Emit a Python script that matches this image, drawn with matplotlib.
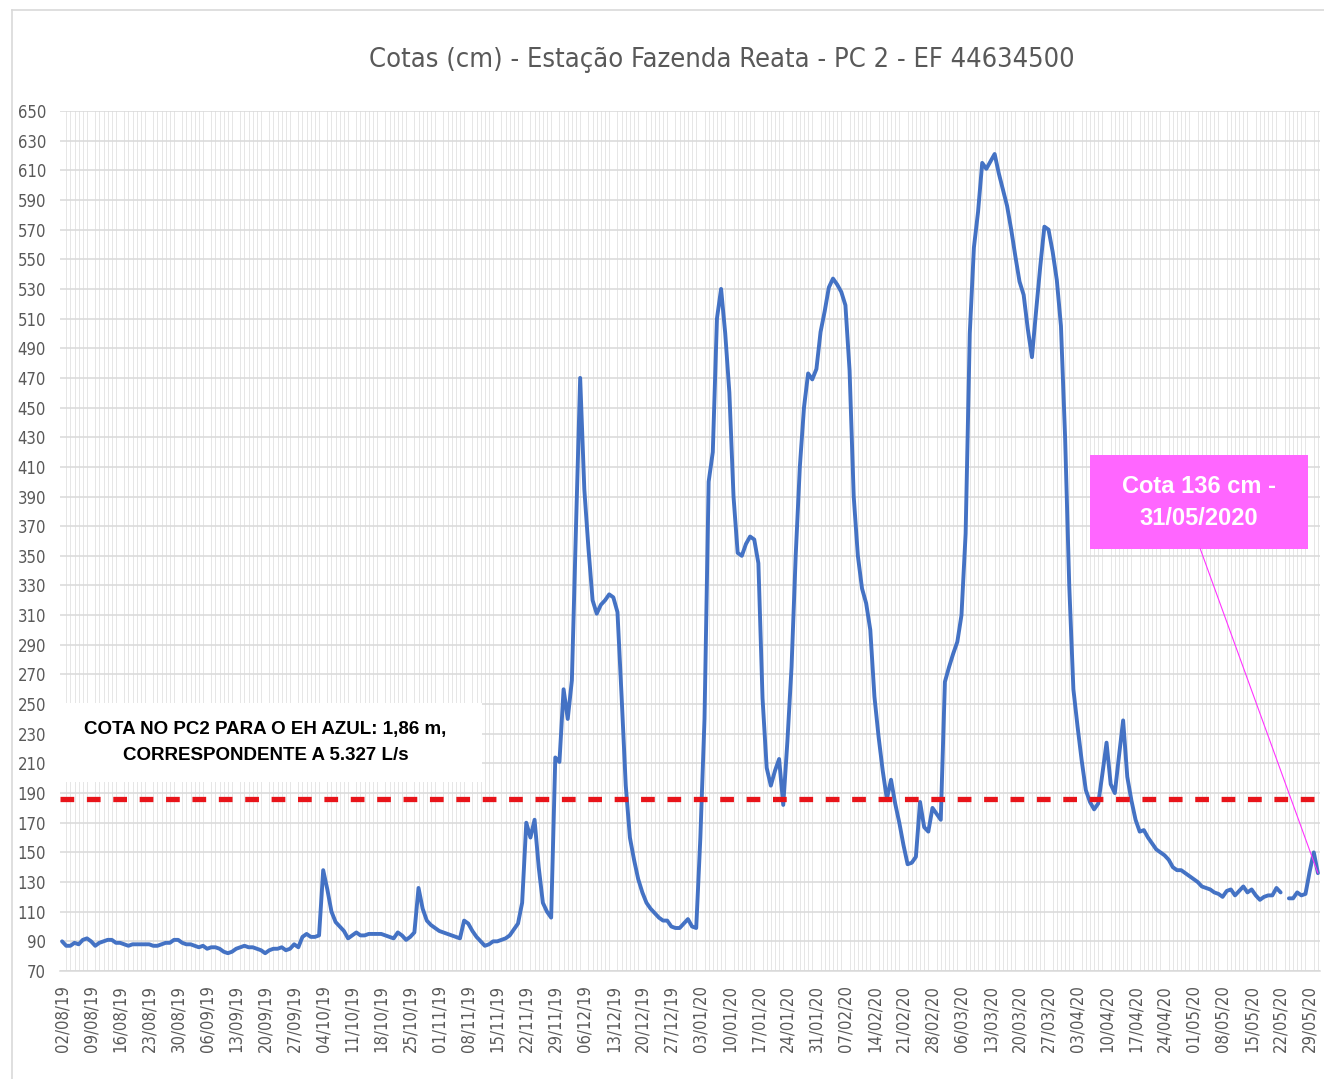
import numpy as np
import pandas as pd
import matplotlib
matplotlib.use("Agg")
import matplotlib.pyplot as plt
from matplotlib.patches import Rectangle
from matplotlib.lines import Line2D

# daily dates (02/08/2019 .. 31/05/2020)
dates = pd.date_range("2019-08-02", "2020-05-31", freq="D")

# cota (cm), one row per week, starting on the tick dates
cota_cm = [
    90, 87, 87, 89, 88, 91, 92,
    90, 87, 89, 90, 91, 91, 89,
    89, 88, 87, 88, 88, 88, 88,
    88, 87, 87, 88, 89, 89, 91,
    91, 89, 88, 88, 87, 86, 87,
    85, 86, 86, 85, 83, 82, 83,
    85, 86, 87, 86, 86, 85, 84,
    82, 84, 85, 85, 86, 84, 85,
    88, 86, 93, 95, 93, 93, 94,
    138, 125, 110, 103, 100, 97, 92,
    94, 96, 94, 94, 95, 95, 95,
    95, 94, 93, 92, 96, 94, 91,
    93, 96, 126, 112, 104, 101, 99,
    97, 96, 95, 94, 93, 92, 104,
    102, 97, 93, 90, 87, 88, 90,
    90, 91, 92, 94, 98, 102, 116,
    170, 160, 172, 140, 116, 110, 106,
    214, 211, 260, 240, 266, 370, 470,
    395, 355, 320, 311, 317, 320, 324,
    322, 312, 255, 195, 160, 145, 132,
    123, 116, 112, 109, 106, 104, 104,
    100, 99, 99, 102, 105, 100, 99,
    160, 240, 400, 420, 510, 530, 500,
    460, 390, 352, 350, 358, 363, 361,
    345, 254, 207, 195, 205, 213, 182,
    225, 275, 350, 410, 450, 473, 469,
    476, 501, 515, 531, 537, 533, 528,
    519, 475, 390, 350, 328, 318, 300,
    255, 228, 205, 186, 199, 183, 170,
    155, 142, 143, 147, 184, 167, 164,
    180, 176, 172, 265, 275, 284, 292,
    310, 365, 500, 558, 582, 615, 611,
    616, 621, 608, 597, 586, 570, 552,
    535, 526, 503, 484, 515, 545, 572,
    570, 555, 536, 505, 430, 330, 260,
    235, 212, 192, 184, 179, 183, 203,
    224, 196, 190, 215, 239, 201, 185,
    172, 164, 165, 160, 156, 152, 150,
    148, 145, 140, 138, 138, 136, 134,
    132, 130, 127, 126, 125, 123, 122,
    120, 124, 125, 121, 124, 127, 123,
    125, 121, 118, 120, 121, 121, 126,
    123, np.nan, 119, 119, 123, 121, 122,
    137, 150, 136,
]

cota_azul = 186          # cota no PC2 para o EH azul (cm)
y_ticks = list(range(70, 651, 20))
tick_step = 7            # one date label per week

titulo = "Cotas (cm) - Estação Fazenda Reata - PC 2 - EF 44634500"
nota_azul = "COTA NO PC2 PARA O EH AZUL: 1,86 m,\nCORRESPONDENTE A 5.327 L/s"
nota_final = "Cota 136 cm -\n31/05/2020"

narrow = ["DejaVu Sans"]
grey = "#595959"

x = np.arange(len(dates))
y = np.array(cota_cm, dtype=float)

fig = plt.figure(figsize=(13.24, 10.79), dpi=100)
ax = fig.add_axes([60 / 1324, 1 - 971 / 1079, 1260 / 1324, 860 / 1079])

# background grid: daily vertical lines + horizontal every 20 cm
ax.set_xticks(x, minor=True)
ax.grid(which="minor", axis="x", color="#e6e6e6", lw=0.7)
ax.grid(which="major", axis="y", color="#d9d9d9", lw=1.1)
ax.set_axisbelow(True)

ax.plot(x, y, color="#4472C4", lw=2.8, solid_joinstyle="round",
        solid_capstyle="round", zorder=3)
ax.axhline(cota_azul, color="#E8141A", lw=3.8, dashes=(2.6, 2.4), zorder=4)

ax.set_xlim(-0.5, len(dates) - 0.5)
ax.set_ylim(y_ticks[0], y_ticks[-1])
ax.set_yticks(y_ticks)
ax.set_yticklabels([str(v) for v in y_ticks], family=narrow, fontstretch="condensed",
                   fontsize=12, color=grey)
major = x[::tick_step]
ax.set_xticks(major)
ax.set_xticklabels([d.strftime("%d/%m/%y") for d in dates[::tick_step]],
                   rotation=90, family=narrow, fontstretch="condensed",
                   fontsize=12, color=grey)
ax.tick_params(axis="both", which="both", length=0)
ax.tick_params(axis="y", pad=10)
ax.tick_params(axis="x", pad=10)
for s in ["top", "right", "left"]:
    ax.spines[s].set_visible(False)
ax.spines["bottom"].set_color("#d9d9d9")
ax.spines["bottom"].set_linewidth(1.1)

fig.text(0.545, 1 - 60 / 1079, titulo, ha="center", va="center",
         family=narrow, fontstretch="condensed", fontsize=19.5, color=grey)

# white note box with the blue-level reference
ax.add_patch(Rectangle((0.0, 0.2198), 0.335, 0.0918, transform=ax.transAxes,
                       facecolor="white", edgecolor="none", zorder=5))
ax.text(0.163, 0.2657, nota_azul, transform=ax.transAxes, ha="center", va="center",
        family=["Liberation Sans", "DejaVu Sans"], fontweight="bold", fontsize=13.5,
        color="black", linespacing=1.75, zorder=6)

# pink callout for the last reading
ax.add_patch(Rectangle((0.8175, 0.4907), 0.173, 0.1093, transform=ax.transAxes,
                       facecolor="#FF66FF", edgecolor="none", zorder=5))
ax.text(0.904, 0.5453, nota_final, transform=ax.transAxes, ha="center", va="center",
        family=["Liberation Sans", "DejaVu Sans"], fontweight="bold", fontsize=17,
        color="white", linespacing=1.5, zorder=6)
ax.annotate("", xy=(x[-1], y[-1]), xycoords="data",
            xytext=(0.905, 0.4907), textcoords="axes fraction",
            arrowprops=dict(arrowstyle="-", color="#FF33FF", lw=0.8,
                            shrinkA=0, shrinkB=0), zorder=6)

# outer chart frame
fig.add_artist(Line2D([12 / 1324, 12 / 1324], [0, 1 - 10 / 1079],
                      transform=fig.transFigure, color="#d9d9d9", lw=1.2))
fig.add_artist(Line2D([12 / 1324, 1], [1 - 10 / 1079, 1 - 10 / 1079],
                      transform=fig.transFigure, color="#d9d9d9", lw=1.2))

fig.savefig("out.png", dpi=100)
